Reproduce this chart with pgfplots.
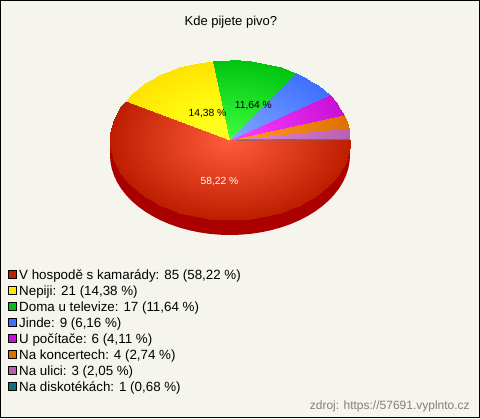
\documentclass[border=0pt]{standalone}
\usepackage{pgfplots}
\pgfplotsset{compat=1.18}
\usepackage{fontspec}
\setmainfont{Liberation Sans}
\definecolor{bgc}{RGB}{245,245,238}
\definecolor{side}{RGB}{170,0,0}
\pgfplotsset{
 colormap={cred}{rgb255=(255,92,60) rgb255=(190,30,0)},
 colormap={cyel}{rgb255=(255,255,40) rgb255=(255,250,16) rgb255=(255,226,0)},
 colormap={cgre}{rgb255=(64,255,64) rgb255=(0,196,16)},
 colormap={cblu}{rgb255=(128,168,255) rgb255=(64,112,255)},
 colormap={cmag}{rgb255=(255,64,255) rgb255=(200,16,216)},
 colormap={cora}{rgb255=(255,160,48) rgb255=(224,112,0)},
 colormap={cmau}{rgb255=(228,136,228) rgb255=(184,96,176)},
}
\begin{document}
\begin{tikzpicture}
\begin{axis}[
 scale only axis, width=479pt, height=417pt,
 xmin=-1.9125, xmax=2.0792, ymin=-3.46875, ymax=1.74375,
 xtick=\empty, ytick=\empty,
 axis line style={black, line width=1pt},
 axis background/.style={fill=bgc},
 point meta min=0, point meta max=1,
 legend style={draw=none, fill=none, inner sep=0pt, outer sep=0pt,
   at={(axis description cs:0.0165,0.3605)}, anchor=north west,
   font=\fontsize{13.35pt}{16pt}\selectfont, row sep=0pt, column sep=2pt,
   nodes={inner sep=0pt, text height=12pt, text depth=4pt}},
 legend cell align=left,
 legend image code/.code={\draw[#1, draw=black, line width=0.8pt] (0pt,-3.6pt) rectangle (8pt,4.4pt);},
]
% pie side
\addplot[fill=side, draw=none, forget plot] coordinates {(-1,0)(1,0)(1,-0.1875)(-1,-0.1875)};
\addplot[fill=side, draw=none, forget plot, data cs=polar, yshift=-15pt] coordinates {
(180,1)(185,1)(190,1)(195,1)(200,1)(205,1)(210,1)(215,1)(220,1)(225,1)(230,1)(235,1)(240,1)(245,1)(250,1)(255,1)(260,1)(265,1)(270,1)(275,1)(280,1)(285,1)(290,1)(295,1)(300,1)(305,1)(310,1)(315,1)(320,1)(325,1)(330,1)(335,1)(340,1)(345,1)(350,1)(355,1)(360,1)};
% red wedge: V hospode
\addplot[patch, patch type=triangle, shader=interp, colormap name=cred, data cs=polar, point meta=explicit, forget plot] coordinates {
(0,0)[0](150.5,1)[1](155,1)[1]
(0,0)[0](155,1)[1](160,1)[1]
(0,0)[0](160,1)[1](165,1)[1]
(0,0)[0](165,1)[1](170,1)[1]
(0,0)[0](170,1)[1](175,1)[1]
(0,0)[0](175,1)[1](180,1)[1]
(0,0)[0](180,1)[1](185,1)[1]
(0,0)[0](185,1)[1](190,1)[1]
(0,0)[0](190,1)[1](195,1)[1]
(0,0)[0](195,1)[1](200,1)[1]
(0,0)[0](200,1)[1](205,1)[1]
(0,0)[0](205,1)[1](210,1)[1]
(0,0)[0](210,1)[1](215,1)[1]
(0,0)[0](215,1)[1](220,1)[1]
(0,0)[0](220,1)[1](225,1)[1]
(0,0)[0](225,1)[1](230,1)[1]
(0,0)[0](230,1)[1](235,1)[1]
(0,0)[0](235,1)[1](240,1)[1]
(0,0)[0](240,1)[1](245,1)[1]
(0,0)[0](245,1)[1](250,1)[1]
(0,0)[0](250,1)[1](255,1)[1]
(0,0)[0](255,1)[1](260,1)[1]
(0,0)[0](260,1)[1](265,1)[1]
(0,0)[0](265,1)[1](270,1)[1]
(0,0)[0](270,1)[1](275,1)[1]
(0,0)[0](275,1)[1](280,1)[1]
(0,0)[0](280,1)[1](285,1)[1]
(0,0)[0](285,1)[1](290,1)[1]
(0,0)[0](290,1)[1](295,1)[1]
(0,0)[0](295,1)[1](300,1)[1]
(0,0)[0](300,1)[1](305,1)[1]
(0,0)[0](305,1)[1](310,1)[1]
(0,0)[0](310,1)[1](315,1)[1]
(0,0)[0](315,1)[1](320,1)[1]
(0,0)[0](320,1)[1](325,1)[1]
(0,0)[0](325,1)[1](330,1)[1]
(0,0)[0](330,1)[1](335,1)[1]
(0,0)[0](335,1)[1](340,1)[1]
(0,0)[0](340,1)[1](345,1)[1]
(0,0)[0](345,1)[1](350,1)[1]
(0,0)[0](350,1)[1](355,1)[1]
(0,0)[0](355,1)[1](360,1)[1]
};
% yellow: Nepiji
\addplot[patch, patch type=triangle, shader=interp, colormap name=cyel, data cs=polar, point meta=explicit, forget plot] coordinates {
(0,0)[0](98.2,1)[1](105,1)[1]
(0,0)[0](105,1)[1](110,1)[1]
(0,0)[0](110,1)[1](115,1)[1]
(0,0)[0](115,1)[1](120,1)[1]
(0,0)[0](120,1)[1](125,1)[1]
(0,0)[0](125,1)[1](130,1)[1]
(0,0)[0](130,1)[1](135,1)[1]
(0,0)[0](135,1)[1](140,1)[1]
(0,0)[0](140,1)[1](145,1)[1]
(0,0)[0](145,1)[1](150.5,1)[1]
};
% green: Doma u televize
\addplot[patch, patch type=triangle, shader=interp, colormap name=cgre, data cs=polar, point meta=explicit, forget plot] coordinates {
(0,0)[0](56.4,1)[1](60,1)[1]
(0,0)[0](60,1)[1](65,1)[1]
(0,0)[0](65,1)[1](70,1)[1]
(0,0)[0](70,1)[1](75,1)[1]
(0,0)[0](75,1)[1](80,1)[1]
(0,0)[0](80,1)[1](85,1)[1]
(0,0)[0](85,1)[1](90,1)[1]
(0,0)[0](90,1)[1](98.2,1)[1]
};
% blue: Jinde
\addplot[patch, patch type=triangle, shader=interp, colormap name=cblu, data cs=polar, point meta=explicit, forget plot] coordinates {
(0,0)[0](33.8,1)[1](38,1)[1]
(0,0)[0](38,1)[1](43,1)[1]
(0,0)[0](43,1)[1](48,1)[1]
(0,0)[0](48,1)[1](52,1)[1]
(0,0)[0](52,1)[1](56.4,1)[1]
};
% magenta: U pocitace
\addplot[patch, patch type=triangle, shader=interp, colormap name=cmag, data cs=polar, point meta=explicit, forget plot] coordinates {
(0,0)[0](18,1)[1](23,1)[1]
(0,0)[0](23,1)[1](28,1)[1]
(0,0)[0](28,1)[1](33.8,1)[1]
};
% orange: Na koncertech
\addplot[patch, patch type=triangle, shader=interp, colormap name=cora, data cs=polar, point meta=explicit, forget plot] coordinates {
(0,0)[0](8.6,1)[1](13,1)[1]
(0,0)[0](13,1)[1](18,1)[1]
};
% mauve: Na ulici
\addplot[patch, patch type=triangle, shader=interp, colormap name=cmau, data cs=polar, point meta=explicit, forget plot] coordinates {
(0,0)[0](0.8,1)[1](5,1)[1]
(0,0)[0](5,1)[1](8.6,1)[1]
};
% grey: Na diskotekach
\addplot[draw={rgb,255:red,100;green,110;blue,120}, line width=1.2pt, data cs=polar, forget plot] coordinates {(0.3,0.05)(0.3,1)};
\addlegendimage{fill={rgb,255:red,192;green,32;blue,0}}
\addlegendentry{V hospodě s kamarády: 85 (58,22 \%)}
\addlegendimage{fill={rgb,255:red,255;green,232;blue,0}}
\addlegendentry{Nepiji: 21 (14,38 \%)}
\addlegendimage{fill={rgb,255:red,0;green,192;blue,16}}
\addlegendentry{Doma u televize: 17 (11,64 \%)}
\addlegendimage{fill={rgb,255:red,64;green,112;blue,255}}
\addlegendentry{Jinde: 9 (6,16 \%)}
\addlegendimage{fill={rgb,255:red,200;green,16;blue,216}}
\addlegendentry{U počítače: 6 (4,11 \%)}
\addlegendimage{fill={rgb,255:red,224;green,112;blue,0}}
\addlegendentry{Na koncertech: 4 (2,74 \%)}
\addlegendimage{fill={rgb,255:red,184;green,96;blue,176}}
\addlegendentry{Na ulici: 3 (2,05 \%)}
\addlegendimage{fill={rgb,255:red,16;green,112;blue,128}}
\addlegendentry{Na diskotékách: 1 (0,68 \%)}
% labels
\node[font=\fontsize{10.3pt}{12pt}\selectfont, text=white, inner sep=0pt] at (axis cs:-0.0875,-0.525) {58,22 \%};
\node[font=\fontsize{10.3pt}{12pt}\selectfont, text=black, inner sep=0pt] at (axis cs:-0.1875,0.325) {14,38 \%};
\node[font=\fontsize{10.3pt}{12pt}\selectfont, text=black, inner sep=0pt] at (axis cs:0.195,0.425) {11,64 \%};
\node[font=\fontsize{13pt}{16pt}\selectfont, inner sep=0pt] at (axis description cs:0.481,0.9475) {Kde pijete pivo?};
\node[font=\fontsize{12pt}{14pt}\selectfont, text={rgb,255:red,128;green,128;blue,120}, inner sep=0pt, anchor=east] at (axis description cs:0.98,0.0275) {zdroj: https://57691.vyplnto.cz};
\end{axis}
\end{tikzpicture}
\end{document}
